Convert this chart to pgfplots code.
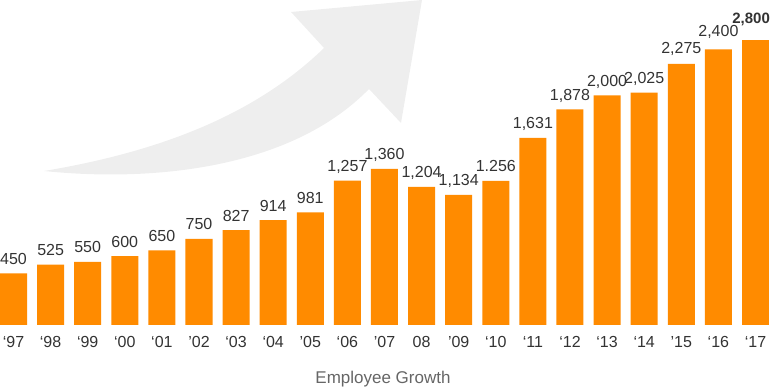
\documentclass[border=0pt]{standalone}
\usepackage{fontspec}
\setmainfont{Liberation Sans}
\usepackage{pgfplots}
\usepackage{pgfplotstable}
\pgfplotsset{compat=1.18}
\definecolor{barorange}{HTML}{FF8B00}
\definecolor{txt}{HTML}{333333}
\definecolor{ttl}{HTML}{666666}
\definecolor{arrowgrey}{HTML}{EEEEEE}
\pgfplotstableread{
x h label off
0 450 450 9
1 525 525 9
2 550 550 9
3 600 600 9
4 650 650 9
5 750 750 9
6 827 827 9
7 914 914 9
8 981 981 9
9 1257 1,257 9
10 1360 1,360 9
11 1204 1,204 9
12 1134 1,134 9
13 1256 1.256 9
14 1631 1,631 9
15 1878 1,878 9
16 2000 2,000 9
17 2025 2,025 9
18 2275 2,275 10
19 2400 2,400 13
}\datatab
\pgfplotstableread{
x h label off
20 2483 2,800 16
}\lasttab
\begin{document}
\begin{tikzpicture}
\useasboundingbox (0pt,0pt) rectangle (578.25pt,-291pt);
\begin{scope}[x=0.75pt,y=0.75pt]
\fill[arrowgrey] (44,-171) .. controls (170,-150) and (260,-110) .. (324,-48)
  -- (291,-12) -- (422,0) -- (401,-123) -- (369,-89)
  .. controls (290,-170) and (150,-182) .. cycle;
\end{scope}
\begin{axis}[
  at={(0pt,-243.75pt)}, anchor=south west,
  scale only axis, width=578.25pt, height=243.75pt,
  xmin=-0.3639, xmax=20.418, ymin=0, ymax=2831,
  axis line style={draw=none}, major tick length=0pt,
  ytick=\empty,
  xtick={0,...,20},
  xticklabels={‘97,‘98,‘99,‘00,‘01,’02,‘03,‘04,’05,‘06,’07,08,’09,‘10,‘11,‘12,‘13,‘14,’15,‘16,‘17},
  xticklabel style={font=\fontsize{12}{12}\selectfont, text=txt, anchor=base, yshift=-16.5pt},
  clip=false,
  ybar, bar width=20.25pt,
  point meta=explicit symbolic,
  visualization depends on={\thisrow{off} \as \off},
  nodes near coords,
  nodes near coords style={font=\fontsize{12}{12}\selectfont, text=txt, anchor=base, yshift=\off*0.75pt},
]
\addplot[fill=barorange, draw=none, bar shift=0pt] table[x=x, y=h, meta=label] {\datatab};
\addplot[fill=barorange, draw=none, bar shift=0pt, nodes near coords style={font=\bfseries\fontsize{11.25}{12}\selectfont, anchor=base east, inner xsep=0pt, xshift=11pt}] table[x=x, y=h, meta=label] {\lasttab};
\end{axis}
\node[anchor=base, text=ttl, font=\fontsize{12.75}{13}\selectfont] at (287.25pt,-287.25pt) {Employee Growth};
\end{tikzpicture}
\end{document}
